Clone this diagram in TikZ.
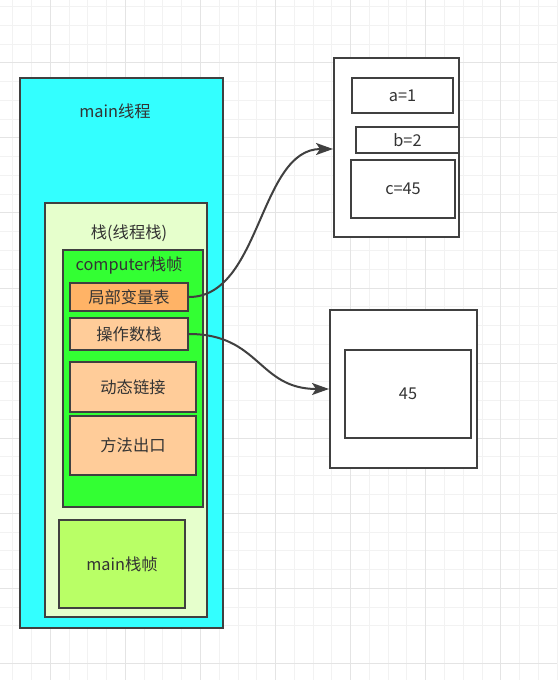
\documentclass[tikz,border=0pt]{standalone}
\usepackage{fontspec}
\setmainfont{Noto Sans CJK SC}
\usetikzlibrary{arrows.meta}
\definecolor{edgec}{HTML}{404040}
\definecolor{txtc}{HTML}{333333}
\definecolor{gridminor}{HTML}{F2F2F2}
\definecolor{gridmajor}{HTML}{E4E4E4}
\definecolor{cyanfill}{HTML}{33FFFF}
\definecolor{stackfill}{HTML}{E6FFCC}
\definecolor{compfill}{HTML}{33FF33}
\definecolor{orangefill}{HTML}{FFB366}
\definecolor{peachfill}{HTML}{FFCC99}
\definecolor{limefill}{HTML}{B9FF66}
\tikzset{
  bx/.style={draw=edgec, line width=2pt, inner sep=0pt, text=txtc, font=\fontsize{16.3}{19}\selectfont},
  lbl/.style={inner sep=0pt, text=txtc, font=\fontsize{16.3}{19}\selectfont},
  conn/.style={draw=edgec, line width=2pt, -{Stealth[length=17pt,width=12pt,inset=4pt]}},
}
\begin{document}
\begin{tikzpicture}[x=1pt,y=-1pt]
\useasboundingbox (0,0) rectangle (557,680);
\fill[white] (0,0) rectangle (557,680);
% grid
\foreach \i in {-3,...,30} {
  \pgfmathsetmacro{\gx}{50.3+\i*18.77}
  \pgfmathsetmacro{\gy}{62.8+\i*18.77}
  \draw[gridminor, line width=1pt] (\gx,0) -- (\gx,680);
  \draw[gridminor, line width=1pt] (0,\gy) -- (557,\gy);
}
\foreach \i in {-1,...,8} {
  \pgfmathsetmacro{\gx}{50.3+\i*75.08}
  \pgfmathsetmacro{\gy}{62.8+\i*75.08}
  \draw[gridmajor, line width=1pt] (\gx,0) -- (\gx,680);
  \draw[gridmajor, line width=1pt] (0,\gy) -- (557,\gy);
}
% left side
\node[bx, fill=cyanfill, minimum width=203pt, minimum height=550pt] (mainthr) at (121.5,353) {};
\node[lbl] (mainthrlbl) at (115,111) {main线程};
\node[bx, fill=stackfill, minimum width=162pt, minimum height=414pt] (stack) at (126,410) {};
\node[lbl] (stacklbl) at (129,233) {栈(线程栈)};
\node[bx, fill=compfill, minimum width=140pt, minimum height=257pt] (comp) at (133,378.5) {};
\node[lbl] (complbl) at (129,266) {computer栈帧};
\node[bx, fill=orangefill, minimum width=118pt, minimum height=28pt] (jubu) at (129,297) {局部变量表};
\node[bx, fill=peachfill, minimum width=118pt, minimum height=32pt] (caozuo) at (129,334) {操作数栈};
\node[bx, fill=peachfill, minimum width=126pt, minimum height=50pt] (dongtai) at (133,387) {动态链接};
\node[bx, fill=peachfill, minimum width=126pt, minimum height=59pt] (fangfa) at (133,445.5) {方法出口};
\node[bx, fill=limefill, minimum width=126pt, minimum height=88pt] (mainframe) at (122,564) {main栈帧};
% right side
\node[bx, fill=white, minimum width=125pt, minimum height=179pt] (heapa) at (396.5,147.5) {};
\node[bx, fill=white, minimum width=101pt, minimum height=35pt] (avar) at (402.5,95.5) {a=1};
\node[bx, fill=white, minimum width=103pt, minimum height=26pt] (bvar) at (407.5,140) {b=2};
\node[bx, fill=white, minimum width=104pt, minimum height=58pt] (cvar) at (403,189) {c=45};
\node[bx, fill=white, minimum width=147pt, minimum height=158pt] (heapb) at (403.5,389) {};
\node[bx, fill=white, minimum width=126pt, minimum height=88pt] (val) at (408,394) {45};
% connectors
\draw[conn] (jubu.east) .. controls +(72,0) and +(-74,0) .. ([yshift=-1.5pt]heapa.west);
\draw[conn] (caozuo.east) .. controls +(71,0) and +(-71,0) .. (heapb.west);
\end{tikzpicture}
\end{document}
